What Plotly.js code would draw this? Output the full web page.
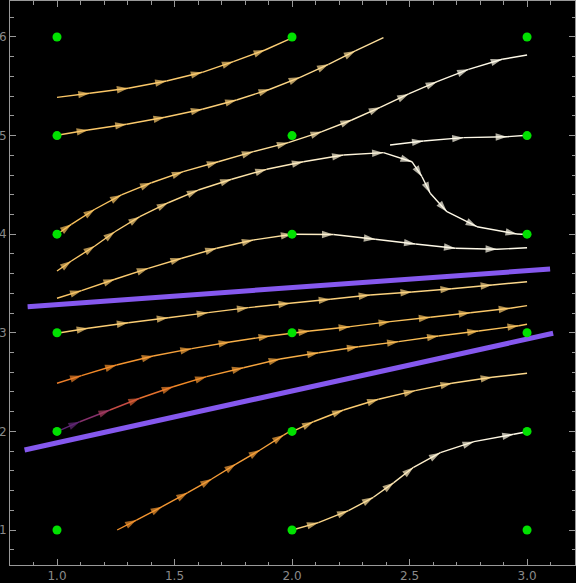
<!DOCTYPE html>
<html><head><meta charset="utf-8">
<script src="https://cdn.plot.ly/plotly-3.0.1.min.js"></script>
<style>html,body{margin:0;padding:0;background:#000;overflow:hidden}</style>
</head><body><div id="chart" style="width:576px;height:583px"></div>
<script>
// grid of sample points
const gridXs = [1, 2, 3];
const gridYs = [1, 2, 3, 4, 5, 6];

// purple lines
const upperLineX = [0.875, 3.098];
const upperLineY = [3.265, 3.647];
const lowerLineX = [0.862, 3.111];
const lowerLineY = [1.811, 2.995];

// streamlines (x, y, colour level along the line)
const lineA_x = [1.0, 1.139, 1.303, 1.466, 1.618, 1.750, 1.885, 1.991];
const lineA_y = [5.388, 5.429, 5.480, 5.554, 5.642, 5.750, 5.868, 5.980];
const lineA_lv = [0.82, 0.82, 0.82, 0.83, 0.83, 0.83, 0.84, 0.84];

const lineB_x = [1.0, 1.132, 1.296, 1.459, 1.618, 1.764, 1.906, 2.034, 2.155, 2.269, 2.389];
const lineB_y = [5.003, 5.057, 5.115, 5.186, 5.267, 5.361, 5.470, 5.591, 5.723, 5.858, 5.993];
const lineB_lv = [0.82, 0.82, 0.83, 0.83, 0.84, 0.85, 0.86, 0.87, 0.88, 0.89, 0.90];

const lineC_x = [1.0, 1.061, 1.161, 1.274, 1.402, 1.537, 1.686, 1.835, 1.984, 2.127, 2.254, 2.375, 2.496, 2.617, 2.751, 2.894, 3.0];
const lineC_y = [3.999, 4.100, 4.253, 4.398, 4.522, 4.634, 4.735, 4.837, 4.928, 5.040, 5.158, 5.287, 5.422, 5.547, 5.672, 5.774, 5.817];
const lineC_lv = [0.80, 0.80, 0.81, 0.82, 0.83, 0.84, 0.86, 0.88, 0.90, 0.92, 0.94, 0.95, 0.96, 0.97, 0.98, 0.98, 0.98];

const lineD_x = [1.0, 1.061, 1.161, 1.246, 1.352, 1.473, 1.601, 1.743, 1.892, 2.048, 2.219, 2.389, 2.510, 2.553, 2.588, 2.659, 2.787, 2.957, 3.0];
const lineD_y = [3.627, 3.728, 3.880, 4.025, 4.178, 4.319, 4.448, 4.557, 4.658, 4.735, 4.803, 4.827, 4.735, 4.583, 4.415, 4.228, 4.076, 4.002, 3.997];
const lineD_lv = [0.82, 0.82, 0.83, 0.84, 0.85, 0.86, 0.88, 0.90, 0.92, 0.94, 0.96, 0.97, 0.98, 0.98, 0.98, 0.98, 0.98, 0.98, 0.98];

const lineE_x = [2.417, 2.559, 2.730, 2.915, 3.0];
const lineE_y = [4.905, 4.945, 4.979, 4.989, 5.003];
const lineE_lv = [0.98, 0.98, 0.98, 0.98, 0.98];

const lineF_x = [1.0, 1.104, 1.246, 1.388, 1.531, 1.679, 1.835, 2.001, 2.176, 2.354, 2.525, 2.695, 2.872, 3.0];
const lineF_y = [3.350, 3.427, 3.543, 3.654, 3.756, 3.857, 3.941, 3.999, 3.997, 3.948, 3.901, 3.857, 3.847, 3.863];
const lineF_lv = [0.82, 0.82, 0.83, 0.84, 0.85, 0.86, 0.88, 0.92, 0.96, 0.97, 0.98, 0.98, 0.98, 0.98];

const lineG_x = [1.0, 1.132, 1.303, 1.473, 1.643, 1.814, 1.991, 2.162, 2.332, 2.510, 2.680, 2.851, 3.0];
const lineG_y = [2.995, 3.046, 3.102, 3.153, 3.204, 3.255, 3.299, 3.340, 3.383, 3.414, 3.447, 3.485, 3.518];
const lineG_lv = [0.84, 0.84, 0.84, 0.84, 0.84, 0.84, 0.84, 0.85, 0.85, 0.86, 0.86, 0.87, 0.88];

const lineH_x = [1.0, 1.104, 1.253, 1.409, 1.573, 1.736, 1.906, 2.076, 2.247, 2.417, 2.588, 2.758, 2.928, 3.0];
const lineH_y = [2.488, 2.565, 2.673, 2.765, 2.839, 2.907, 2.968, 3.018, 3.062, 3.113, 3.157, 3.204, 3.249, 3.275];
const lineH_lv = [0.64, 0.66, 0.69, 0.72, 0.74, 0.76, 0.77, 0.78, 0.79, 0.80, 0.81, 0.82, 0.83, 0.84];

const lineI_x = [1.0, 1.097, 1.225, 1.352, 1.494, 1.636, 1.793, 1.949, 2.113, 2.282, 2.453, 2.623, 2.794, 2.965, 3.0];
const lineI_y = [1.997, 2.098, 2.217, 2.336, 2.453, 2.555, 2.646, 2.734, 2.798, 2.859, 2.910, 2.968, 3.018, 3.072, 3.086];
const lineI_lv = [0.26, 0.30, 0.44, 0.58, 0.66, 0.70, 0.73, 0.75, 0.77, 0.78, 0.79, 0.80, 0.80, 0.81, 0.81];

const lineK_x = [2.001, 2.091, 2.219, 2.368, 2.524, 2.680, 2.851, 3.0];
const lineK_y = [1.997, 2.098, 2.217, 2.326, 2.413, 2.488, 2.549, 2.589];
const lineK_lv = [0.80, 0.82, 0.83, 0.84, 0.85, 0.86, 0.87, 0.88];

const lineL_x = [1.256, 1.338, 1.447, 1.556, 1.658, 1.761, 1.864, 1.964, 2.001];
const lineL_y = [1.0, 1.101, 1.236, 1.378, 1.517, 1.669, 1.811, 1.963, 2.014];
const lineL_lv = [0.70, 0.70, 0.71, 0.71, 0.72, 0.72, 0.73, 0.74, 0.75];

const lineM_x = [2.001, 2.112, 2.240, 2.346, 2.433, 2.517, 2.631, 2.774, 2.943, 3.0];
const lineM_y = [1.0, 1.074, 1.196, 1.332, 1.480, 1.636, 1.784, 1.896, 1.971, 1.997];
const lineM_lv = [0.86, 0.86, 0.88, 0.90, 0.92, 0.94, 0.96, 0.97, 0.98, 0.98];

const streams = [
  [lineA_x, lineA_y, lineA_lv], [lineB_x, lineB_y, lineB_lv], [lineC_x, lineC_y, lineC_lv],
  [lineD_x, lineD_y, lineD_lv], [lineE_x, lineE_y, lineE_lv], [lineF_x, lineF_y, lineF_lv],
  [lineG_x, lineG_y, lineG_lv], [lineH_x, lineH_y, lineH_lv], [lineI_x, lineI_y, lineI_lv],
  [lineK_x, lineK_y, lineK_lv], [lineL_x, lineL_y, lineL_lv], [lineM_x, lineM_y, lineM_lv]
];

// sunset-like colour scale
const stops = [
  [0.0, [0, 0, 0]], [0.15, [50, 20, 80]], [0.3, [100, 40, 120]], [0.42, [160, 55, 100]],
  [0.55, [215, 85, 55]], [0.68, [242, 138, 38]], [0.8, [250, 192, 88]],
  [0.9, [252, 224, 158]], [1.0, [255, 255, 250]]
];
function sunset(v) {
  for (let i = 1; i < stops.length; i++) {
    if (v <= stops[i][0]) {
      const [a, ca] = stops[i - 1], [b, cb] = stops[i];
      const t = (v - a) / (b - a);
      const c = ca.map((q, k) => Math.round(q + (cb[k] - q) * t));
      return `rgb(${c[0]},${c[1]},${c[2]})`;
    }
  }
  return 'rgb(255,255,250)';
}

const traces = [];
streams.forEach(([xs, ys, lv]) => {
  for (let i = 0; i < xs.length - 1; i++) {
    traces.push({
      x: [xs[i], xs[i + 1]], y: [ys[i], ys[i + 1]], mode: 'lines',
      line: {color: sunset((lv[i] + lv[i + 1]) / 2), width: 1.4},
      hoverinfo: 'skip', showlegend: false
    });
  }
  traces.push({
    x: xs, y: ys, mode: 'markers', hoverinfo: 'skip', showlegend: false,
    marker: {
      symbol: 'arrow', angleref: 'previous',
      size: xs.map((_, i) => (i === 0 || i === xs.length - 1) ? 0 : 12),
      color: lv.map(sunset), line: {width: 0}
    }
  });
});

const purple = 'rgb(133,88,238)';
traces.push({x: upperLineX, y: upperLineY, mode: 'lines', line: {color: purple, width: 5}, showlegend: false, hoverinfo: 'skip'});
traces.push({x: lowerLineX, y: lowerLineY, mode: 'lines', line: {color: purple, width: 5}, showlegend: false, hoverinfo: 'skip'});

const gx = [], gy = [];
gridXs.forEach(x => gridYs.forEach(y => { gx.push(x); gy.push(y); }));
traces.push({x: gx, y: gy, mode: 'markers', marker: {color: 'rgb(0,225,0)', size: 9}, showlegend: false, hoverinfo: 'skip'});

const axisCommon = {
  ticks: 'inside', ticklen: 6, tickcolor: '#999', tickwidth: 1,
  showline: true, linecolor: '#999', linewidth: 1, mirror: 'allticks',
  showgrid: false, zeroline: false,
  tickfont: {color: '#8a8a8a', size: 12, family: 'DejaVu Sans'}
};

const layout = {
  width: 576, height: 583,
  margin: {l: 10, r: 1, t: 1, b: 18, pad: 0},
  paper_bgcolor: '#000', plot_bgcolor: '#000',
  showlegend: false,
  xaxis: Object.assign({}, axisCommon, {
    range: [0.8, 3.204], tick0: 1, dtick: 0.5, tickformat: '.1f',
    minor: {dtick: 0.1, tick0: 1, ticks: 'inside', ticklen: 3.5, tickcolor: '#999', showgrid: false}
  }),
  yaxis: Object.assign({}, axisCommon, {
    range: [0.645, 6.365], tick0: 1, dtick: 1,
    minor: {dtick: 0.2, tick0: 1, ticks: 'inside', ticklen: 3.5, tickcolor: '#999', showgrid: false}
  })
};

Plotly.newPlot('chart', traces, layout, {staticPlot: true, displayModeBar: false});
</script></body></html>
